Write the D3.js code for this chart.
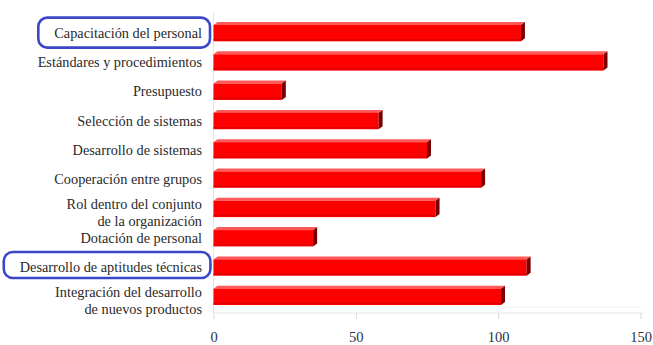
<!DOCTYPE html>
<html>
<head>
<meta charset="utf-8">
<script src="https://cdn.jsdelivr.net/npm/d3@7"></script>
<style>
  html, body { margin: 0; padding: 0; background: #fff; }
  svg { display: block; }
</style>
</head>
<body>
<svg id="chart" width="653" height="345"></svg>
<script>
// ---- data ----
const categories = [
  ["Capacitación del personal"],
  ["Estándares y procedimientos"],
  ["Presupuesto"],
  ["Selección de sistemas"],
  ["Desarrollo de sistemas"],
  ["Cooperación entre grupos"],
  ["Rol dentro del conjunto", "de la organización"],
  ["Dotación de personal"],
  ["Desarrollo de aptitudes técnicas"],
  ["Integración del desarrollo", "de nuevos productos"]
];
const values = [108, 137, 24, 58, 75, 94, 78, 35, 110, 101];
const xTicks = [0, 50, 100, 150];
const highlighted = [0, 8];

// ---- layout ----
const FONT = "Liberation Serif";
const svg = d3.select("#chart");
const pLeft = 213.5, pRight = 640.5, pTop = 17, pBottom = 310;
const x = d3.scaleLinear().domain([0, 150]).range([pLeft, pRight]);
const y = d3.scaleBand().domain(d3.range(categories.length)).range([pTop, pBottom]).paddingInner(0.34).paddingOuter(0.17);
const dx = 4, dy = -3;

// floor / walls
const g = svg.append("g");
g.append("line").attr("x1", pLeft).attr("x2", pLeft).attr("y1", 12).attr("y2", 313)
  .attr("stroke", "#e6e6e6").attr("stroke-width", 1.2);
g.append("line").attr("x1", pLeft).attr("x2", pRight + 3).attr("y1", 313).attr("y2", 313)
  .attr("stroke", "#e3e3e3").attr("stroke-width", 1.2);
g.append("line").attr("x1", pLeft + 2).attr("x2", pRight + 1).attr("y1", 307).attr("y2", 307)
  .attr("stroke", "#f0f0f0").attr("stroke-width", 1);

// x axis
const xAxis = d3.axisBottom(x).tickValues(xTicks).tickSize(6).tickPadding(13);
const ax = svg.append("g").attr("transform", "translate(0,313)").call(xAxis);
ax.select(".domain").remove();
ax.selectAll(".tick line").attr("stroke", "#d8d8d8");
ax.selectAll(".tick text").attr("fill", "#2b3346").attr("font-size", 14.5)
  .attr("font-family", FONT);

// bars
const bars = svg.append("g").selectAll("g").data(values).join("g");
bars.each(function(v, i) {
  const sel = d3.select(this);
  const x0 = x(0), x1 = x(v);
  const yt = y(i) + 3, h = y.bandwidth() - 3;
  sel.append("path")
    .attr("d", `M${x0},${yt} L${x0 + dx},${yt + dy} L${x1 + dx},${yt + dy} L${x1},${yt} Z`)
    .attr("fill", "#ff5a5a");
  sel.append("rect").attr("x", x0).attr("y", yt).attr("width", x1 - x0).attr("height", h)
    .attr("fill", "#ff0000");
  sel.append("line").attr("x1", x0).attr("x2", x1).attr("y1", yt + h - 1.5).attr("y2", yt + h - 1.5)
    .attr("stroke", "#e00000").attr("stroke-width", 1.5);
  sel.append("path")
    .attr("d", `M${x1},${yt} L${x1 + dx},${yt + dy} L${x1 + dx},${yt + h + dy} L${x1},${yt + h} Z`)
    .attr("fill", "#7a0000");
});

// labels
const labels = svg.append("g").selectAll("text").data(categories).join("text")
  .attr("text-anchor", "end")
  .attr("x", 202)
  .attr("font-size", 14.3)
  .attr("font-family", FONT)
  .attr("fill", "#2a2a2a")
  .each(function(lines, i) {
    const t = d3.select(this);
    const cy = y(i) + y.bandwidth() / 2 + 1;
    if (lines.length === 1) {
      t.append("tspan").attr("x", 202).attr("y", cy).attr("dy", "0.35em").text(lines[0]);
    } else {
      t.append("tspan").attr("x", 202).attr("y", cy - 4).attr("dy", "0.35em").text(lines[0]);
      t.append("tspan").attr("x", 202).attr("y", cy + 13).attr("dy", "0.35em").text(lines[1]);
    }
  });

// highlight boxes around selected labels
labels.filter((d, i) => highlighted.includes(i)).each(function(d, k) {
  const b = this.getBBox();
  const padTop = k === 0 ? 7 : 7, padBot = k === 0 ? 7 : 3;
  svg.append("rect")
    .attr("x", b.x - 16).attr("y", b.y - padTop)
    .attr("width", b.width + 24).attr("height", b.height + padTop + padBot)
    .attr("rx", 9).attr("ry", 9)
    .attr("fill", "none").attr("stroke", "#3b47c9").attr("stroke-width", 2.6);
});
</script>
</body>
</html>
